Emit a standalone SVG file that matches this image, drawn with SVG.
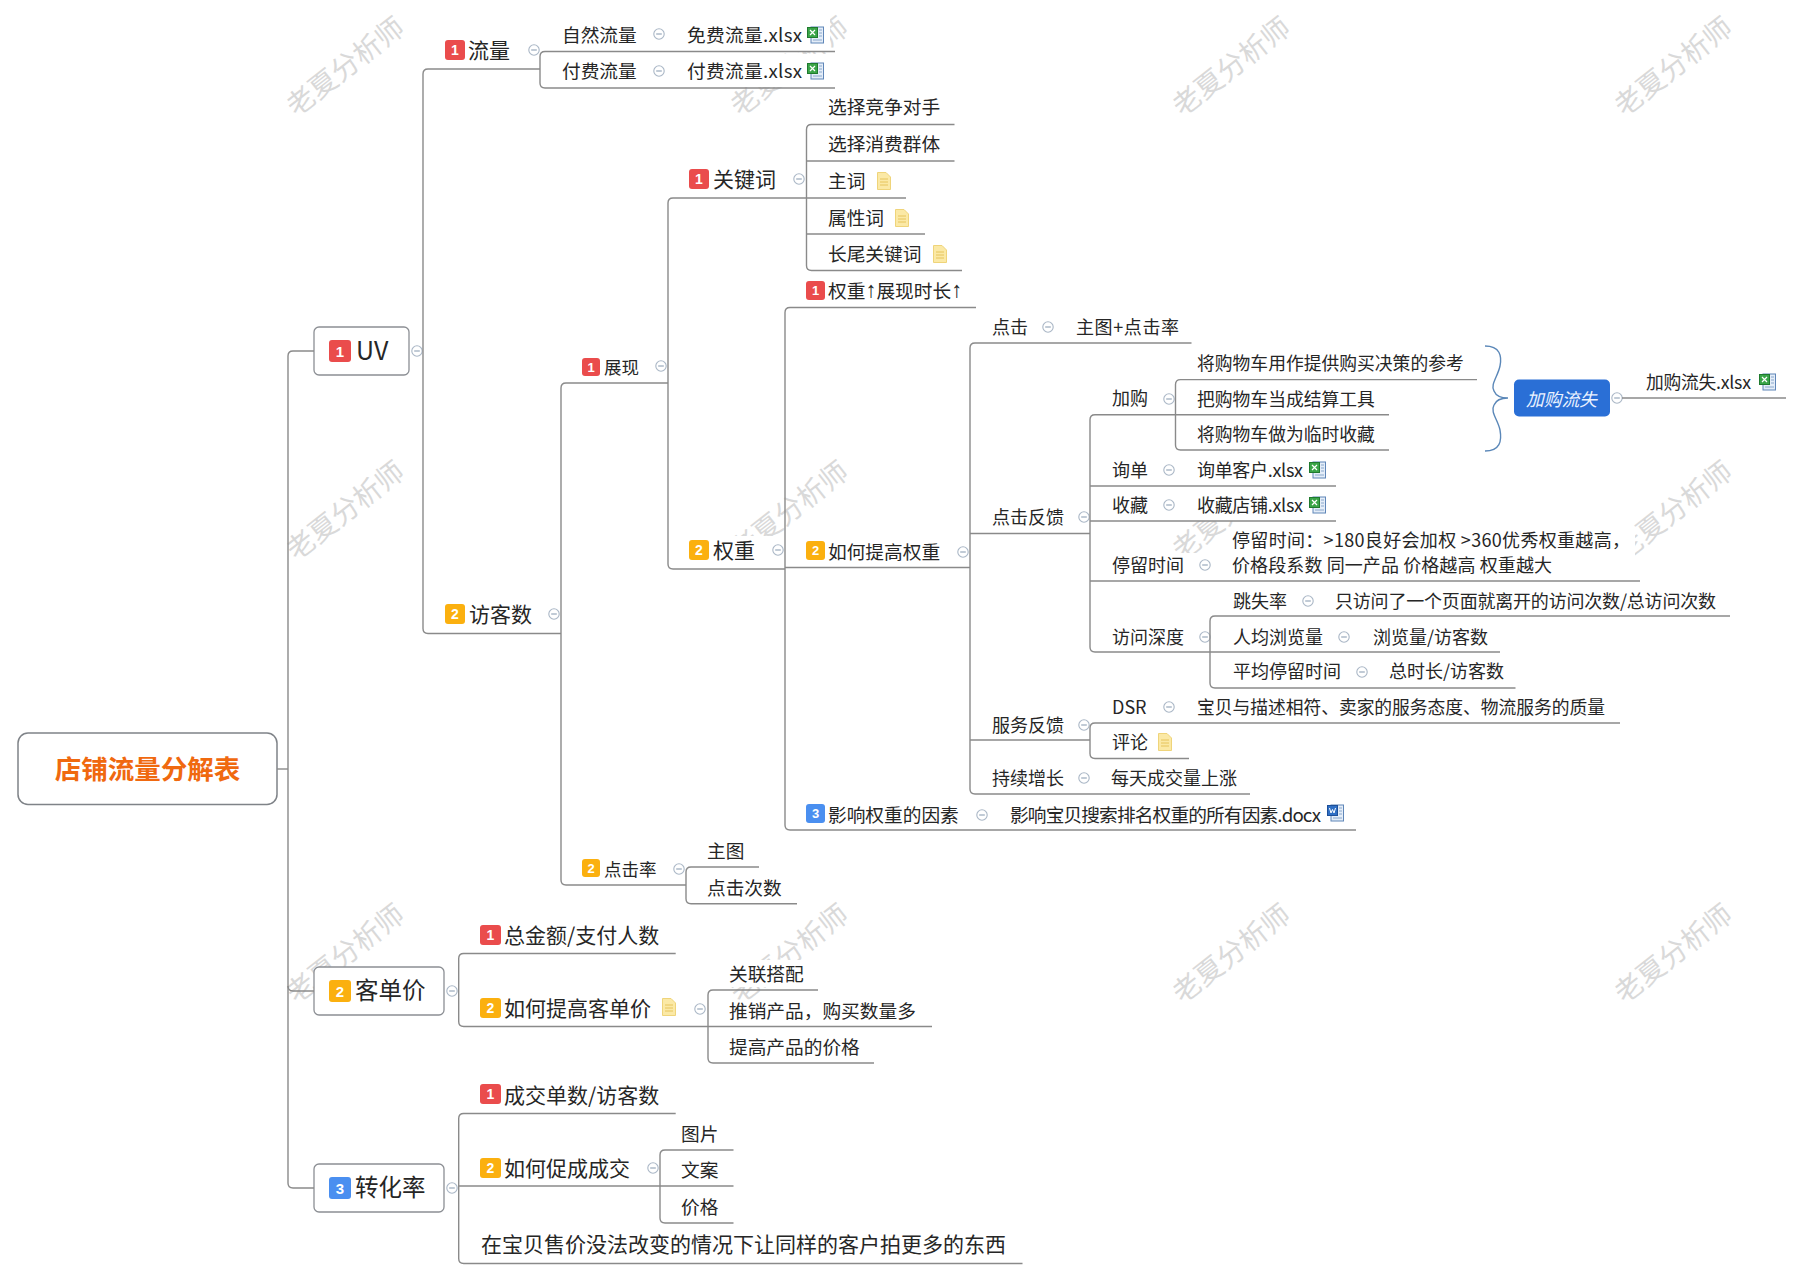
<svg xmlns="http://www.w3.org/2000/svg" width="1804" height="1280" viewBox="0 0 1804 1280">
<style>
text{font-family:"Noto Sans CJK SC","Noto Sans",sans-serif;fill:#262626;dominant-baseline:central}
.s{font-size:18px}.m{font-size:18.7px}.l{font-size:21px}.z{font-size:17.8px}.x{font-size:23.5px}
.wm{font-size:28px;fill:#d9d9d9;text-anchor:middle}
.bg{fill:#fff}
.num{fill:#fff;font-family:"Liberation Sans",sans-serif;font-weight:700;text-anchor:middle}
.b1{fill:#ea4c4c}.b2{fill:#fbb00f}.b3{fill:#4a8ff0}
.box{fill:#fff;stroke:#8c8f94;stroke-width:1.3}
.cn path{fill:none;stroke:#8a8a8a;stroke-width:1.4}
.ar{font-family:"Liberation Sans",sans-serif;font-size:22px}
</style>
<defs>
<g id="col"><circle r="5.2" fill="#fff" stroke="#aab7c6" stroke-width="1.1"/><path d="M-2.8 0H2.8" stroke="#8ea0b4" stroke-width="1.1"/></g>
<g id="xl"><rect x="4" y="1" width="12.5" height="16" fill="#e4edf8" stroke="#5f86b8"/><rect x=".5" y="1.5" width="10" height="10" fill="#3aa548" stroke="#1f7a2e"/><path d="M3 4L8 9M8 4L3 9" stroke="#fff" stroke-width="1.2"/><path d="M12 4H15M12 7H15M12 10H15M6 14H15" stroke="#8aa8cc"/></g>
<g id="wd"><rect x="4" y="1" width="12.5" height="16" fill="#e4edf8" stroke="#5f86b8"/><rect x=".5" y="1.5" width="10" height="10" fill="#2f6fc4" stroke="#1d4f99"/><path d="M2.5 4L4 9L5.500 5.500L7 9L8.500 4" stroke="#fff" fill="none"/><path d="M12 4H15M12 7H15M12 10H15M6 14H15" stroke="#8aa8cc"/></g>
<g id="nt"><path d="M.5 .5H9L13.500 5V17.500H.5Z" fill="#fbe9a6" stroke="#efd47a"/><path d="M3 7H11M3 10H11M3 13H11" stroke="#e6c45c"/></g>
</defs>
<rect width="1804" height="1280" fill="#fff"/>
<g id="watermarks">
<text class="wm" transform="translate(344 65) rotate(-38)">老夏分析师</text>
<text class="wm" transform="translate(788 65) rotate(-38)">老夏分析师</text>
<text class="wm" transform="translate(1230 65) rotate(-38)">老夏分析师</text>
<text class="wm" transform="translate(1672 65) rotate(-38)">老夏分析师</text>
<text class="wm" transform="translate(344 509) rotate(-38)">老夏分析师</text>
<text class="wm" transform="translate(788 509) rotate(-38)">老夏分析师</text>
<text class="wm" transform="translate(1230 509) rotate(-38)">老夏分析师</text>
<text class="wm" transform="translate(1672 509) rotate(-38)">老夏分析师</text>
<text class="wm" transform="translate(344 952) rotate(-38)">老夏分析师</text>
<text class="wm" transform="translate(788 952) rotate(-38)">老夏分析师</text>
<text class="wm" transform="translate(1230 952) rotate(-38)">老夏分析师</text>
<text class="wm" transform="translate(1672 952) rotate(-38)">老夏分析师</text>
</g>

<g id="root"><rect x="18" y="733" width="259" height="71.500" rx="10" fill="#fff" stroke="#7f8388" stroke-width="1.5"/><text x="147.500" y="767" text-anchor="middle" style="font-size:26.500px;font-weight:700;fill:#f0690f">店铺流量分解表</text></g>

<g id="uv"><rect class="box" x="314" y="327" width="95" height="48" rx="5"/><rect class="b1" x="329" y="340" width="22" height="22" rx="3"/><text class="num" x="340" y="351" style="font-size:15px">1</text><text class="x" x="356" y="349" style="font-size:25px">UV</text><use href="#col" x="417" y="351"/></g>
<g id="kdj"><rect class="box" x="314" y="967" width="130" height="48" rx="5"/><rect class="b2" x="329" y="980" width="22" height="22" rx="3"/><text class="num" x="340" y="991" style="font-size:15px">2</text><text class="x" x="355" y="989">客单价</text><use href="#col" x="452" y="991"/></g>
<g id="zhl"><rect class="box" x="314" y="1164" width="130" height="48" rx="5"/><rect class="b3" x="329" y="1177" width="22" height="22" rx="3"/><text class="num" x="340" y="1188" style="font-size:15px">3</text><text class="x" x="355" y="1186">转化率</text><use href="#col" x="452" y="1188"/></g>

<g id="liuliang"><rect class="bg" x="445" y="36" width="95" height="30"/><rect class="b1" x="445" y="40" width="20" height="20" rx="3"/><text class="num" x="455" y="50" style="font-size:14px">1</text><text class="l" x="468" y="48.500">流量</text><use href="#col" x="534" y="50"/></g>
<g id="zrll"><rect class="bg" x="560" y="18" width="270" height="33"/><text class="m" x="562" y="33">自然流量</text><use href="#col" x="659" y="34"/><text class="m" x="687" y="33" textLength="115">免费流量.xlsx</text><use href="#xl" x="807" y="26"/></g>
<g id="ffll"><rect class="bg" x="560" y="54" width="270" height="33"/><text class="m" x="562" y="69">付费流量</text><use href="#col" x="659" y="71"/><text class="m" x="687" y="69" textLength="115">付费流量.xlsx</text><use href="#xl" x="807" y="62"/></g>

<g id="fks"><rect class="bg" x="445" y="600" width="115" height="30"/><rect class="b2" x="445" y="604" width="20" height="20" rx="3"/><text class="num" x="455" y="614" style="font-size:14px">2</text><text class="l" x="469" y="613">访客数</text><use href="#col" x="554" y="614"/></g>
<g id="zx"><rect class="bg" x="582" y="355" width="85" height="24"/><rect class="b1" x="582" y="358" width="18" height="18" rx="3"/><text class="num" x="591" y="367" style="font-size:13px">1</text><text style="font-size:17.500px" x="604" y="366">展现</text><use href="#col" x="661" y="366"/></g>
<g id="djl"><rect class="bg" x="582" y="856" width="100" height="25"/><rect class="b2" x="582" y="859" width="18" height="18" rx="3"/><text class="num" x="591" y="868" style="font-size:13px">2</text><text style="font-size:17.500px" x="604" y="868">点击率</text><use href="#col" x="679" y="869"/></g>
<g id="gjc"><rect class="bg" x="689" y="165" width="116" height="30"/><rect class="b1" x="689" y="169" width="20" height="20" rx="3"/><text class="num" x="699" y="179" style="font-size:14px">1</text><text class="l" x="713" y="177.500">关键词</text><use href="#col" x="799" y="179"/></g>
<g id="qz"><rect class="bg" x="689" y="536" width="95" height="30"/><rect class="b2" x="689" y="540" width="20" height="20" rx="3"/><text class="num" x="699" y="550" style="font-size:14px">2</text><text class="l" x="713" y="549">权重</text><use href="#col" x="778" y="550"/></g>

<g id="k1"><rect class="bg" x="828" y="94" width="115" height="27"/><text class="m" x="828" y="105">选择竞争对手</text></g>
<g id="k2"><rect class="bg" x="828" y="130" width="115" height="27"/><text class="m" x="828" y="142">选择消费群体</text></g>
<g id="k3"><text class="m" x="828" y="179">主词</text><use href="#nt" x="877" y="172"/></g>
<g id="k4"><text class="m" x="828" y="216">属性词</text><use href="#nt" x="895" y="209"/></g>
<g id="k5"><text class="m" x="828" y="252">长尾关键词</text><use href="#nt" x="933" y="245"/></g>

<g id="q1"><rect class="bg" x="806" y="278" width="157" height="26"/><rect class="b1" x="806" y="281" width="19" height="19" rx="3"/><text class="num" x="815.500" y="290.500" style="font-size:13px">1</text><text class="m" x="828" y="289">权重<tspan class="ar">↑</tspan>展现时长<tspan class="ar">↑</tspan></text></g>
<g id="q2"><rect class="bg" x="806" y="538" width="160" height="26"/><rect class="b2" x="806" y="541" width="19" height="19" rx="3"/><text class="num" x="815.500" y="550.500" style="font-size:13px">2</text><text class="m" x="828" y="550">如何提高权重</text><use href="#col" x="963" y="552"/></g>
<g id="q3"><rect class="bg" x="806" y="801" width="540" height="26"/><rect class="b3" x="806" y="804" width="19" height="19" rx="3"/><text class="num" x="815.500" y="813.500" style="font-size:13px">3</text><text class="m" x="828" y="813">影响权重的因素</text><use href="#col" x="982" y="815"/><text class="m" x="1010" y="813" textLength="311">影响宝贝搜索排名权重的所有因素.docx</text><use href="#wd" x="1327" y="804"/></g>

<g id="dj"><text class="s" x="992" y="326">点击</text><use href="#col" x="1048" y="327"/><text class="s" x="1076" y="326" textLength="103">主图+点击率</text></g>
<g id="djfk"><text class="s" x="992" y="516">点击反馈</text><use href="#col" x="1084" y="517"/></g>
<g id="fwfk"><text class="s" x="992" y="724">服务反馈</text><use href="#col" x="1084" y="725"/></g>
<g id="cxzz"><text class="s" x="992" y="777">持续增长</text><use href="#col" x="1084" y="778"/><text class="s" x="1111" y="777">每天成交量上涨</text></g>

<g id="jg"><text class="s" x="1112" y="397">加购</text><use href="#col" x="1169" y="399"/></g>
<g id="jg1"><text class="z" x="1197" y="362">将购物车用作提供购买决策的参考</text></g>
<g id="jg2"><text class="z" x="1197" y="398">把购物车当成结算工具</text></g>
<g id="jg3"><text class="z" x="1197" y="433">将购物车做为临时收藏</text></g>
<g id="xd"><rect class="bg" x="1100" y="451" width="232" height="35"/><text class="s" x="1112" y="469">询单</text><use href="#col" x="1169" y="470"/><text class="s" x="1197" y="469" textLength="106">询单客户.xlsx</text><use href="#xl" x="1309" y="461"/></g>
<g id="sc"><rect class="bg" x="1100" y="486" width="232" height="35"/><text class="s" x="1112" y="504">收藏</text><use href="#col" x="1169" y="505"/><text class="s" x="1197" y="504" textLength="106">收藏店铺.xlsx</text><use href="#xl" x="1309" y="496"/></g>
<g id="tl"><rect class="bg" x="1111" y="553" width="100" height="25"/><text class="s" x="1112" y="564">停留时间</text><use href="#col" x="1205" y="565"/><rect class="bg" x="1230" y="527" width="405" height="51"/><text class="s" x="1232" y="539" textLength="398">停留时间：&gt;180良好会加权 &gt;360优秀权重越高，</text><text class="s" x="1232" y="564" textLength="320">价格段系数 同一产品 价格越高 权重越大</text></g>
<g id="fw"><text class="s" x="1112" y="636">访问深度</text><use href="#col" x="1205" y="637"/></g>
<g id="fw1"><text class="s" x="1233" y="600">跳失率</text><use href="#col" x="1308" y="601"/><text class="s" x="1335" y="600" textLength="381">只访问了一个页面就离开的访问次数/总访问次数</text></g>
<g id="fw2"><text class="s" x="1233" y="636">人均浏览量</text><use href="#col" x="1344" y="637"/><text class="s" x="1373" y="636" textLength="115">浏览量/访客数</text></g>
<g id="fw3"><text class="s" x="1233" y="670">平均停留时间</text><use href="#col" x="1362" y="672"/><text class="s" x="1389" y="670" textLength="115">总时长/访客数</text></g>
<g id="dsr"><text class="s" x="1112" y="706">DSR</text><use href="#col" x="1169" y="707"/><text class="z" x="1197" y="706" textLength="408">宝贝与描述相符、卖家的服务态度、物流服务的质量</text></g>
<g id="pl"><text class="s" x="1112" y="741">评论</text><use href="#nt" x="1158" y="733"/></g>

<g id="jgls"><rect x="1514" y="379.500" width="96" height="37" rx="5" fill="#2a6fd6"/><text x="1526" y="397.500" style="font-size:17.800px;font-style:italic;fill:#eaf2ff">加购流失</text><use href="#col" x="1617" y="398"/></g>
<g id="jglsf"><text class="z" x="1646" y="380.500" textLength="105">加购流失.xlsx</text><use href="#xl" x="1759" y="373"/></g>

<g id="dt1"><text class="m" x="707" y="849">主图</text></g>
<g id="dt2"><text class="m" x="707" y="886">点击次数</text></g>

<g id="k_1"><rect class="b1" x="480" y="925" width="21" height="20" rx="3"/><text class="num" x="490.500" y="935" style="font-size:14px">1</text><text class="l" x="504" y="934">总金额/支付人数</text></g>
<g id="k_2"><rect class="b2" x="480" y="998" width="21" height="20" rx="3"/><text class="num" x="490.500" y="1008" style="font-size:14px">2</text><text class="l" x="504" y="1007">如何提高客单价</text><use href="#nt" x="662" y="998"/><use href="#col" x="700" y="1009"/></g>
<g id="k_21"><rect class="bg" x="729" y="960" width="76" height="27"/><text class="m" x="729" y="972">关联搭配</text></g>
<g id="k_22"><text class="m" x="729" y="1009">推销产品，购买数量多</text></g>
<g id="k_23"><text class="m" x="729" y="1045">提高产品的价格</text></g>

<g id="z_1"><rect class="b1" x="480" y="1084" width="21" height="20" rx="3"/><text class="num" x="490.500" y="1094" style="font-size:14px">1</text><text class="l" x="504" y="1094">成交单数/访客数</text></g>
<g id="z_2"><rect class="b2" x="480" y="1158" width="21" height="20" rx="3"/><text class="num" x="490.500" y="1168" style="font-size:14px">2</text><text class="l" x="504" y="1167">如何促成成交</text><use href="#col" x="653" y="1168"/></g>
<g id="z_21"><text class="m" x="681" y="1132">图片</text></g>
<g id="z_22"><text class="m" x="681" y="1168">文案</text></g>
<g id="z_23"><text class="m" x="681" y="1205">价格</text></g>
<g id="z_3"><text class="l" x="481" y="1243">在宝贝售价没法改变的情况下让同样的客户拍更多的东西</text></g>

<g id="connectors" class="cn">
<path d="M277 769H288"/>
<path d="M314 351H293Q288 351 288 356V1183Q288 1188 293 1188H314"/>
<path d="M288 986Q288 991 293 991H314"/>
<path d="M540 69H428Q423 69 423 74V628.500Q423 633.500 428 633.500H561"/>
<path d="M835 51.500H545Q540 51.500 540 56.500V83Q540 88 545 88H835"/>
<path d="M668 383H566Q561 383 561 388V880Q561 885 566 885H686"/>
<path d="M806.500 198H673Q668 198 668 203V564Q668 569 673 569H785"/>
<path d="M954.500 124.500H811.500Q806.500 124.500 806.500 129.500V265.500Q806.500 270.500 811.500 270.500H962"/>
<path d="M806.500 161H954.500M806.500 198H906M806.500 234H925"/>
<path d="M976 307.500H790Q785 307.500 785 312.500V825Q785 830 790 830H1356"/>
<path d="M785 567.500H970"/>
<path d="M1191.500 343H975Q970 343 970 348V789Q970 794 975 794H1250"/>
<path d="M970 533.500H1090M970 740H1090"/>
<path d="M1175.500 414.700H1095Q1090 414.700 1090 419.700V647Q1090 652 1095 652H1500"/>
<path d="M1477 379.600H1180.500Q1175.500 379.600 1175.500 384.600V445Q1175.500 450 1180.500 450H1389"/>
<path d="M1175.500 414.700H1389"/>
<path d="M1090 486H1336M1090 521H1336M1090 581H1640"/>
<path d="M1730 616H1215Q1210 616 1210 621V683Q1210 688 1215 688H1515.500"/>
<path d="M1620 723H1095Q1090 723 1090 728V753.500Q1090 758.500 1095 758.500H1189"/>
<path d="M759 867H691Q686 867 686 872V898.700Q686 903.700 691 903.700H797"/>
<path d="M675.700 953.500H463.700Q458.700 953.500 458.700 958.500V1021.500Q458.700 1026.500 463.700 1026.500H932"/>
<path d="M818 990H713Q708 990 708 995V1058Q708 1063 713 1063H874"/>
<path d="M675.700 1113.500H463.700Q458.700 1113.500 458.700 1118.500V1258.500Q458.700 1263.500 463.700 1263.500H1022.500"/>
<path d="M458.700 1186H660"/>
<path d="M733.500 1150H665Q660 1150 660 1155V1218Q660 1223 665 1223H733.500"/>
<path d="M660 1186H733.500"/>
<path d="M1622 398H1786"/>
<path d="M1485 346C1500 346 1502 356 1500 366C1498 376 1490 385 1494 391C1496 396 1502 398 1508 398C1502 398 1496 400 1494 405C1490 412 1498 420 1500 430C1502 441 1500 451 1485 451" style="stroke:#5a87b8"/>
</g>
</svg>
